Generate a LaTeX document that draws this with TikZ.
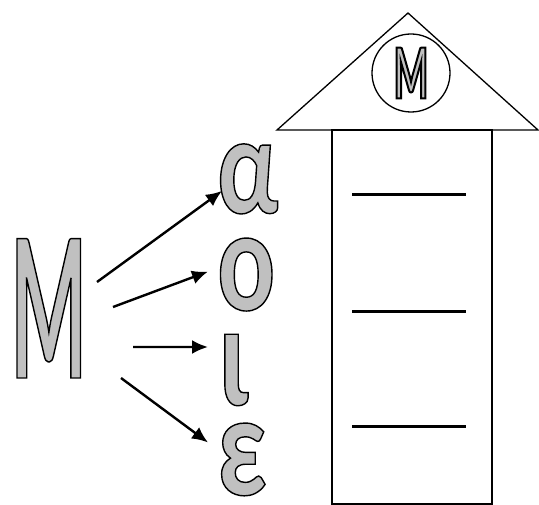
\documentclass[tikz,border=0pt]{standalone}
\usepackage{fontspec}
\setmainfont{Carlito}
\newfontfamily\bigfont[FakeStretch=0.4]{Carlito Bold}
\newfontfamily\vowelfont[FakeStretch=0.74]{Carlito Bold}
\newfontfamily\sealfont[FakeStretch=0.5]{Carlito Bold}
\usetikzlibrary{arrows.meta,positioning}
\definecolor{letterfill}{RGB}{192,192,192}
% outlined glyphs: fill and stroke render mode
\newcommand{\hollow}[2]{\special{pdf:literal direct 2 Tr #1 w 0 0 0 RG}#2\special{pdf:literal direct 0 Tr}}

\begin{document}
\begin{tikzpicture}[x=1pt,y=-1pt,
		letter/.style={inner sep=0pt,anchor=base west,text=letterfill},
		link/.style={line width=2.4pt,-{Latex[length=16pt,width=14pt]}},
		wall/.style={line width=1.3pt}]
	\useasboundingbox (0,0) rectangle (539,505);
	% the letter and its vowels
	\node[letter] (bigM) at (11,378) {\bigfont\fontsize{215}{215}\selectfont\hollow{1.4}{M}};
	\node[letter] (alpha) at (217,213) {\vowelfont\fontsize{140}{140}\selectfont\hollow{1.4}{α}};
	\node[letter] (omicron) at (217,310) {\vowelfont\fontsize{146}{146}\selectfont\hollow{1.4}{ο}};
	\node[letter] (iota) at (218,405) {\vowelfont\fontsize{146}{146}\selectfont\hollow{1.4}{ι}};
	\node[letter] (epsilon) at (217,495) {\vowelfont\fontsize{146}{146}\selectfont\hollow{1.4}{ε}};
	\coordinate (t1) at (97,282);
	\coordinate (t2) at (113,307);
	\coordinate (t3) at (133,347);
	\coordinate (t4) at (121,378);
	\draw[link] (t1) -- ([shift={(5,12)}]alpha.west);
	\draw[link] (t2) -- ([shift={(-9,-3)}]omicron.west);
	\draw[link] (t3) -- ([shift={(-10,-23)}]iota.west);
	\draw[link] (t4) -- ([shift={(-9,-17)}]epsilon.west);
	% the house
	\draw[wall] (277,130) -- (408,13) -- (538,130) -- cycle;
	\node[draw,wall,circle,minimum size=78pt,inner sep=0pt,text=letterfill] (seal) at (411,73)
		{\sealfont\fontsize{78}{78}\selectfont\hollow{2}{M}};
	\draw[wall] (332,130) rectangle (492,504);
	\foreach \y in {195,312,427}
		\draw[line width=3pt] (352,\y) -- (466,\y);
\end{tikzpicture}
\end{document}
